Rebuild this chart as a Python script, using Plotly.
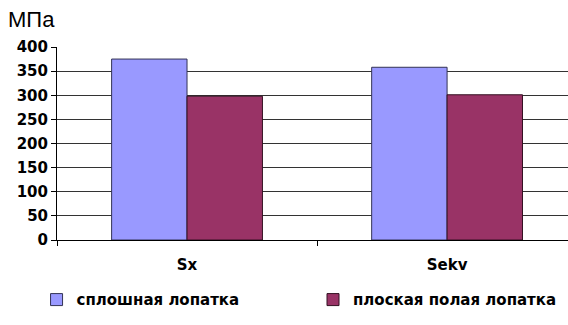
import plotly.graph_objects as go

# Stress values (MPa) for the two blade designs
categories = ["Sx", "Sekv"]
solid_blade = [375, 358]
hollow_flat_blade = [298, 301]
series_names = ["сплошная лопатка", "плоская полая лопатка"]
y_ticks = [0, 50, 100, 150, 200, 250, 300, 350, 400]

tick_font = dict(family="DejaVu Sans", size=15, color="black", weight="bold")
cat_font = dict(family="DejaVu Sans", size=15, color="black", weight="bold")
legend_font = dict(family="DejaVu Sans", size=15, color="black", weight="bold")

fig = go.Figure()
fig.add_trace(go.Bar(
    x=categories, y=solid_blade, name=series_names[0], legend="legend",
    marker=dict(color="#9999FF", line=dict(color="#333355", width=1)),
))
fig.add_trace(go.Bar(
    x=categories, y=hollow_flat_blade, name=series_names[1], legend="legend2",
    marker=dict(color="#993366", line=dict(color="#331122", width=1)),
))

fig.update_layout(
    width=568, height=325,
    margin=dict(l=57, r=0, t=47, b=85),
    paper_bgcolor="white", plot_bgcolor="white",
    barmode="group", bargap=0.42, bargroupgap=0,
    showlegend=True,
    legend=dict(
        orientation="h", x=-0.04, xanchor="left", y=-0.31, yanchor="middle",
        font=legend_font, itemwidth=30,
    ),
    legend2=dict(
        orientation="h", x=0.501, xanchor="left", y=-0.31, yanchor="middle",
        font=legend_font, itemwidth=30,
    ),
    xaxis=dict(
        range=[-0.5, 1.465], showgrid=False,
        showline=True, linecolor="black", linewidth=1,
        ticks="outside", tickson="boundaries", ticklen=5, tickcolor="black",
        ticklabelstandoff=11, tickfont=cat_font,
    ),
    yaxis=dict(
        range=[0, 400], tickvals=y_ticks,
        showgrid=True, gridcolor="#333333", gridwidth=1,
        showline=True, linecolor="black", linewidth=1,
        ticks="outside", ticklen=5, tickcolor="black",
        tickfont=tick_font, zeroline=False,
    ),
    annotations=[dict(
        text="МПа", xref="paper", yref="paper", x=-0.1, y=1.14,
        xanchor="left", yanchor="middle", showarrow=False,
        font=dict(family="Liberation Sans", size=22, color="black"),
    )],
)

fig.write_html("out.html")
